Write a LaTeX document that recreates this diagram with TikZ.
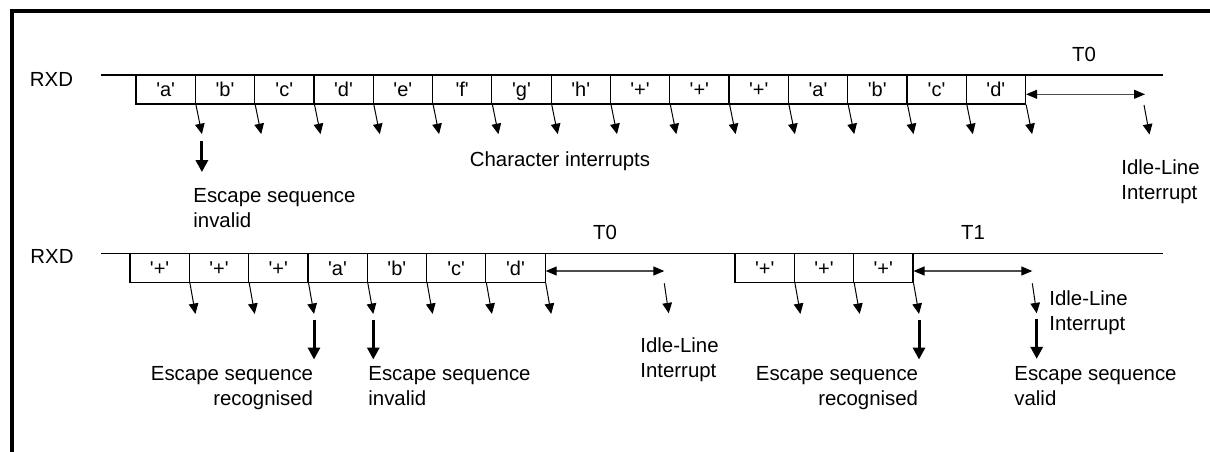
\documentclass[tikz,border=0pt]{standalone}
\usepackage{fontspec}
\newfontfamily\lsans{Liberation Sans}
\usetikzlibrary{arrows.meta}

\begin{document}
\begin{tikzpicture}[x=0.5pt,y=-0.5pt,
  every node/.style={font=\lsans\fontsize{10.2}{12.5}\selectfont, inner sep=0pt},
  cell/.style={draw, line width=0.6pt, minimum width=29.65pt, minimum height=14.5pt,
    font=\lsans\fontsize{10}{12}\selectfont, text height=7.2pt, text depth=0pt},
  signal/.style={line width=1pt},
  signaltwo/.style={line width=0.8pt},
  tick/.style={line width=0.5pt, -{Triangle[width=4.8pt,length=5.2pt]}},
  bigarrow/.style={line width=1.5pt, -{Triangle[width=6pt,length=6pt]}},
  span/.style={line width=0.55pt, black!70,
    {Triangle[width=4.5pt,length=5.5pt,color=black]}-{Triangle[width=4.5pt,length=5.5pt,color=black]}},
  frame/.style={line width=2pt, line join=miter},
]
\useasboundingbox (0,0) rectangle (1210,451);

% outer frame (top and left edges)
\draw[frame] (12,452) -- (12,10.8) -- (1211,10.8);

% ---------------- first trace ----------------
\node (rxd1) at (51.5,79) {RXD};
\foreach \t [count=\i] in {'a','b','c','d','e','f','g','h','+','+','+','a','b','c','d'}
  \node[cell] (a\i) at ({136+59.3*(\i-0.5)},89.5) {\t};
\draw[signal] (101,75) -- (1162.7,75);

\foreach \i in {1,...,15}
  \draw[tick] (a\i.south east) -- ++(6,29.5) coordinate (ta\i);

\coordinate (e1) at (1145,94.3);
\draw[span] ([yshift=-2.4pt]a15.east) -- (e1);
\node (t0a) at (1084,54) {T0};
\coordinate (i1) at (1144,105);
\draw[tick] (i1) -- ++(5.5,29.5);

\draw[bigarrow] ([yshift=-3.5pt]ta1) -- ++(0,31);
\node[anchor=north west, align=left] (esc1) at (193,188) {Escape sequence\\invalid};
\node (chr) at (560,161) {Character interrupts};
\node[anchor=north west, align=left] (idle1) at (1121,159.5) {Idle-Line\\Interrupt};

% ---------------- second trace ----------------
\node (rxd2) at (52,256.7) {RXD};
\foreach \t [count=\i] in {'+','+','+','a','b','c','d'}
  \node[cell] (b\i) at ({130+59.3*(\i-0.5)},267.8) {\t};
\foreach \t [count=\i] in {'+','+','+'}
  \node[cell] (c\i) at ({735+59.3*(\i-0.5)},267.8) {\t};
\draw[signaltwo] (101,253.3) -- (1162.7,253.3);

\foreach \i in {1,...,7}
  \draw[tick] (b\i.south east) -- ++(5.5,31) coordinate (tb\i);
\foreach \i in {1,...,3}
  \draw[tick] (c\i.south east) -- ++(5.5,31) coordinate (tc\i);

\coordinate (e2) at (664.3,271);
\draw[span] ([yshift=-1.6pt]b7.east) -- (e2);
\coordinate (i2) at (664.3,283.3);
\draw[tick] (i2) -- ++(4.4,30);

\coordinate (e3) at (1032.3,271);
\draw[span] ([yshift=-1.6pt]c3.east) -- (e3);
\coordinate (i3) at (1032.3,283.3);
\draw[tick] (i3) -- ++(4.4,30) coordinate (ti3);

\node (t0b) at (605,232) {T0};
\node (t1) at (973,232) {T1};

\draw[bigarrow] ([yshift=-2.8pt]tb3) -- ++(0,40);
\draw[bigarrow] ([yshift=-2.8pt]tb4) -- ++(0,40);
\draw[bigarrow] ([yshift=-2.8pt]tc3) -- ++(0,40);
\draw[bigarrow] ([yshift=-2.8pt]ti3) -- ++(0,40);

\node[anchor=north east, align=right] (rec1) at (313.5,366.5) {Escape sequence\\recognised};
\node[anchor=north west, align=left] (inv2) at (368,366.5) {Escape sequence\\invalid};
\node[anchor=north west, align=left] (idle2) at (640,337.5) {Idle-Line\\Interrupt};
\node[anchor=north east, align=right] (rec2) at (918.5,366.5) {Escape sequence\\recognised};
\node[anchor=north west, align=left] (idle3) at (1049,290) {Idle-Line\\Interrupt};
\node[anchor=north west, align=left] (valid) at (1014,366.5) {Escape sequence\\valid};
\end{tikzpicture}
\end{document}
